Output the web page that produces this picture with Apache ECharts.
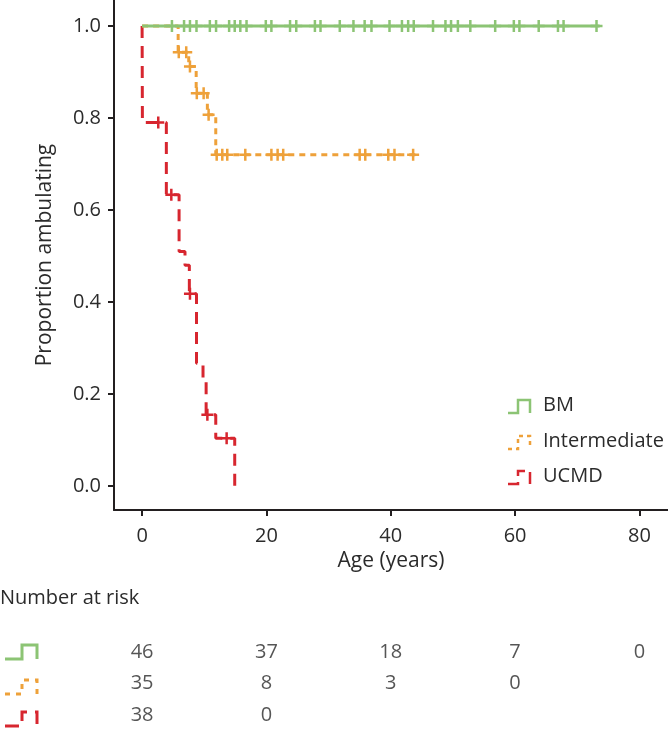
<!DOCTYPE html>
<html><head><meta charset="utf-8">
<script src="https://cdn.jsdelivr.net/npm/echarts@6/dist/echarts.min.js"></script>
<style>html,body{margin:0;padding:0;background:#fff}#c{width:668px;height:731px}</style>
</head><body><div id="c"></div>
<script>
// ---------- data ----------
const groups = ['BM', 'Intermediate', 'UCMD'];
const xTicks = [0, 20, 40, 60, 80];
const yTicks = [0, 0.2, 0.4, 0.6, 0.8, 1.0];

// Kaplan-Meier step points [age (years), proportion ambulating]
const bmSteps = [[0, 1], [73.6, 1]];
const intSteps = [[0, 1], [5.8, 0.943], [7.5, 0.912], [8.7, 0.854], [10.5, 0.807], [11.85, 0.72], [44.5, 0.72]];
const ucmdSteps = [[0, 1], [0.05, 0.79], [3.9, 0.633], [5.95, 0.51], [6.9, 0.48], [7.6, 0.418], [8.75, 0.267], [9.8, 0.228], [10.3, 0.155], [11.85, 0.104], [14.9, 0], [14.9, 0]];

// censored observations [age, proportion]
const bmCensor = [[4.8,1],[6.75,1],[7.7,1],[8.75,1],[10.9,1],[11.9,1],[14.0,1],[14.9,1],[15.8,1],[16.8,1],[19.9,1],[20.8,1],[23.8,1],[24.8,1],[27.8,1],[28.7,1],[31.8,1],[34.0,1],[35.8,1],[36.9,1],[39.8,1],[41.8,1],[42.8,1],[43.7,1],[46.8,1],[48.8,1],[49.7,1],[50.8,1],[52.8,1],[56.8,1],[59.8,1],[60.7,1],[63.8,1],[66.9,1],[67.8,1],[73.1,1]];
const intCensor = [[5.9,0.943],[7.1,0.943],[7.7,0.912],[8.8,0.854],[9.9,0.854],[10.7,0.807],[12.0,0.72],[12.9,0.72],[13.7,0.72],[16.6,0.72],[20.8,0.72],[21.8,0.72],[22.7,0.72],[35.0,0.72],[35.9,0.72],[39.6,0.72],[40.6,0.72],[43.6,0.72]];
const ucmdCensor = [[2.6,0.79],[4.7,0.633],[7.7,0.418],[10.5,0.155],[13.6,0.104]];

// number at risk
const riskTimes = [0, 20, 40, 60, 80];
const riskBM = [46, 37, 18, 7, 0];
const riskInt = [35, 8, 3, 0];
const riskUCMD = [38, 0];

// ---------- styles ----------
const colors = { BM: '#8cc474', Intermediate: '#eea13a', UCMD: '#d7262f' };
const dashes = { BM: null, Intermediate: [6, 5], UCMD: [12, 8] };
const FONT = "'Open Sans', 'Noto Sans', sans-serif";
const TXT = '#2b2b2b';
const AX = '#231f20';
const FS = 20;
const plus = 'path://M6,0L6,12M0,6L12,6';

const stepsBy = { BM: bmSteps, Intermediate: intSteps, UCMD: ucmdSteps };
const censorBy = { BM: bmCensor, Intermediate: intCensor, UCMD: ucmdCensor };
const riskBy = { BM: riskBM, Intermediate: riskInt, UCMD: riskUCMD };

const chart = echarts.init(document.getElementById('c'), null, { renderer: 'canvas' });

const series = [];
['UCMD', 'Intermediate', 'BM'].forEach(g => {
  series.push({
    name: g, type: 'line', step: 'end', xAxisIndex: 0, yAxisIndex: 0,
    data: stepsBy[g], symbol: 'none', silent: true,
    lineStyle: { color: colors[g], width: 3, type: dashes[g] || 'solid', cap: 'butt' },
    z: 2
  });
  series.push({
    name: g + ' censored', type: 'scatter', xAxisIndex: 0, yAxisIndex: 0,
    data: censorBy[g], symbol: plus, symbolSize: 12, silent: true,
    itemStyle: { color: 'none', borderColor: colors[g], borderWidth: 2.5, opacity: 1 },
    z: 3
  });
});
groups.forEach(g => {
  series.push({
    name: g + ' at risk', type: 'scatter', xAxisIndex: 1, yAxisIndex: 1,
    data: riskBy[g].map((n, i) => ({ value: [riskTimes[i], g, n] })),
    symbolSize: 1, silent: true,
    itemStyle: { color: 'transparent' },
    label: { show: true, position: 'inside', formatter: p => String(p.value[2]),
      fontSize: FS, color: TXT, fontFamily: FONT }
  });
});

const axisCommon = {
  axisLine: { show: true, onZero: false, lineStyle: { color: AX, width: 2 } },
  splitLine: { show: false }
};

const graphics = [];
// legend
const legY = [407, 443, 478];
groups.forEach((g, i) => {
  const y = legY[i];
  graphics.push({
    type: 'polyline', silent: true,
    shape: { points: [[508, y + 6], [518, y + 6], [518, y - 7], [530, y - 7], [530, y + 6]] },
    style: { stroke: colors[g], lineWidth: 2.5, fill: null, lineDash: dashes[g] ? (g === 'UCMD' ? [12, 6] : [4, 4]) : null }
  });
  graphics.push({
    type: 'text', left: 543, top: y - 12, silent: true,
    style: { text: g, fontSize: FS, fill: TXT, fontFamily: FONT }
  });
});
// risk table heading and icons
graphics.push({ type: 'text', left: 0, top: 588, silent: true,
  style: { text: 'Number at risk', fontSize: FS, fill: TXT, fontFamily: FONT } });
const rowY = [652, 687, 719];
groups.forEach((g, i) => {
  const y = rowY[i];
  graphics.push({
    type: 'polyline', silent: true,
    shape: { points: [[5, y + 7], [22, y + 7], [22, y - 7], [37, y - 7], [37, y + 7]] },
    style: { stroke: colors[g], lineWidth: 3, fill: null, lineDash: dashes[g] ? (g === 'UCMD' ? [14, 8] : [5, 6]) : null }
  });
});

chart.setOption({
  animation: false,
  backgroundColor: '#fff',
  textStyle: { fontFamily: FONT },
  grid: [
    { left: 114, right: 0, top: 0, bottom: 221, containLabel: false },
    { left: 114, right: 0, top: 636, height: 101, containLabel: false }
  ],
  xAxis: [
    Object.assign({}, axisCommon, {
      type: 'value', gridIndex: 0, min: -4.52, max: 84.6,
      axisTick: { show: true, length: 6, lineStyle: { color: AX, width: 2 }, customValues: xTicks },
      axisLabel: { customValues: xTicks, fontSize: FS, color: TXT, margin: 16, fontFamily: FONT },
      name: 'Age (years)', nameLocation: 'middle', nameGap: 40,
      nameTextStyle: { fontSize: 21, color: TXT, fontFamily: FONT }
    }),
    { type: 'value', gridIndex: 1, min: -4.52, max: 84.6, show: false }
  ],
  yAxis: [
    Object.assign({}, axisCommon, {
      type: 'value', gridIndex: 0, min: -0.0522, max: 1.0565,
      axisTick: { show: true, length: 6, lineStyle: { color: AX, width: 2 }, customValues: yTicks },
      axisLabel: { customValues: yTicks, fontSize: FS, color: TXT, margin: 13, fontFamily: FONT,
        formatter: v => v.toFixed(1) },
      name: 'Proportion ambulating', nameLocation: 'middle', nameGap: 58,
      nameTextStyle: { fontSize: 21, color: TXT, fontFamily: FONT }
    }),
    { type: 'category', gridIndex: 1, data: groups, inverse: true, show: false }
  ],
  series: series,
  graphic: graphics
});
</script></body></html>
